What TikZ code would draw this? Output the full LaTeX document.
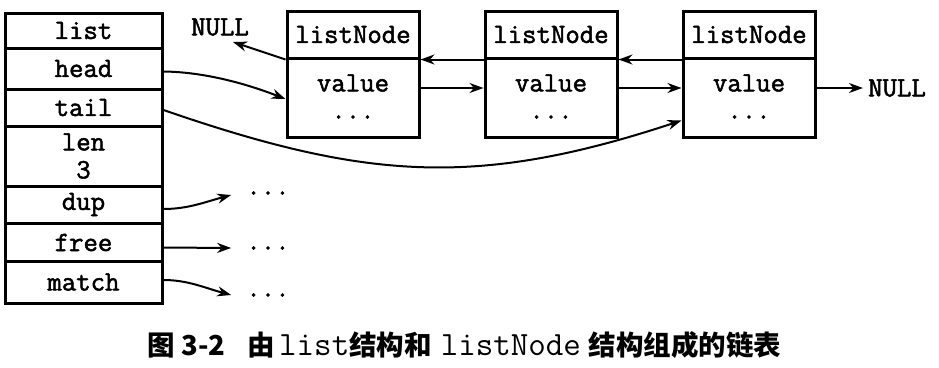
\documentclass[tikz,border=0pt]{standalone}
\usepackage{fontspec}
\usetikzlibrary{arrows.meta,calc}
\newfontfamily\cjk{Noto Sans CJK SC}
\newfontfamily\boldmono{Latin Modern Mono}[FakeBold=1.8]
\newfontfamily\lightmono{Latin Modern Mono}
\newcommand\dmono{\boldmono\fontsize{28}{28}\selectfont}
\newcommand\cmono{\lightmono\fontsize{34}{34}\selectfont}
\begin{document}
\begin{tikzpicture}[x=1pt,y=-1pt,
  cell/.style={draw, line width=3pt, minimum width=157pt, inner sep=0pt,
    font=\dmono, align=center},
  hdr/.style={draw, line width=3pt, minimum width=132pt, minimum height=47pt, inner sep=0pt,
    font=\dmono},
  bodybox/.style={draw, line width=3pt, minimum width=132pt, minimum height=79pt, inner sep=0pt},
  mtext/.style={inner sep=0pt, font=\dmono},
  arrow/.style={line width=2pt, -{Stealth[length=14pt,width=10pt]}}]
\fill[white] (0,0) rectangle (939,367);
\useasboundingbox (0,0) rectangle (939,367);
% list structure
\node[cell, minimum height=35pt] (list) at (83.5,30.5) {list};
\node[cell, minimum height=41pt] (head) at (83.5,68.5) {head};
\node[cell, minimum height=37pt] (tail) at (83.5,107.5) {tail};
\node[cell, minimum height=60pt] (len)  at (83.5,156) {len\\3};
\node[cell, minimum height=37pt] (dup)  at (83.5,204.5) {dup};
\node[cell, minimum height=38pt] (free) at (83.5,242.5) {free};
\node[cell, minimum height=42pt] (match) at (83.5,282) {match};
% listNodes
\foreach \i/\x in {1/353,2/551,3/749}{
  \node[hdr] (h\i) at (\x,34.5) {listNode};
  \node[bodybox] (b\i) at (\x,97.5) {};
  \node[mtext] (v\i) at (\x,83) {value};
  \node[mtext] (d\i) at (\x,117) {...};
}
% NULL labels
\node[mtext] (nulll) at (220,27) {NULL};
\node[mtext] (nullr) at (897,88) {NULL};
\coordinate (nullltip) at (233,42);
% dots for dup/free/match
\node[mtext] (dd) at (268,193) {...};
\node[mtext] (fd) at (268,248) {...};
\node[mtext] (md) at (268,295) {...};
% arrows between listNodes
\draw[arrow] (h1.south west) -- (nullltip);
\draw[arrow] (h2.south west) -- (h1.south east);
\draw[arrow] (h3.south west) -- (h2.south east);
\draw[arrow] ([yshift=9.5pt]b1.east) -- ([yshift=9.5pt]b2.west);
\draw[arrow] ([yshift=9.5pt]b2.east) -- ([yshift=9.5pt]b3.west);
\draw[arrow] ([yshift=9.5pt]b3.east) -- ([xshift=-5pt]nullr.west);
% head and tail
\draw[arrow] ([yshift=-3pt]head.east) .. controls (205,72) and (247,84) .. ([yshift=-1.5pt]b1.west);
\draw[arrow] ([yshift=-2.5pt]tail.east) .. controls (366,180) and (477,188) .. ([yshift=-23pt]b3.west);
% dup free match
\draw[arrow] ([yshift=-4.5pt]dup.east) .. controls (188,209) and (205,202) .. ([xshift=-15pt,yshift=-2pt]dd.west);
\draw[arrow] ([yshift=-5pt]free.east) -- ([xshift=-15pt]fd.west);
\draw[arrow] ([yshift=2pt]match.east) .. controls (188,280) and (205,288) .. ([xshift=-15pt]md.west);
% caption
\node[anchor=base west, inner sep=0pt] (cap) at (147,355)
  {\cjk\bfseries\fontsize{27.5}{30}\selectfont 图\hspace{7pt}3-2\hspace{22pt}由\hspace{4pt}{\cmono list}结构和\hspace{9pt}{\cmono listNode}\hspace{8pt}结构组成的链表};
\end{tikzpicture}
\end{document}
